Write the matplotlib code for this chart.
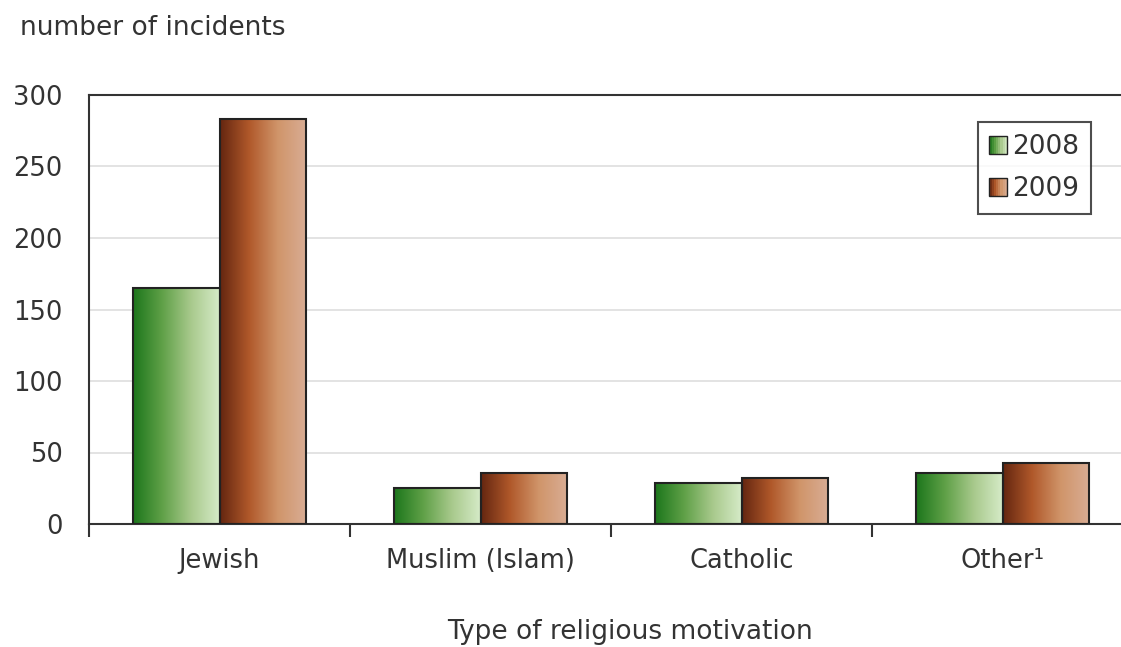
import numpy as np
import matplotlib.pyplot as plt
from matplotlib.colors import LinearSegmentedColormap
from matplotlib.patches import Rectangle
from matplotlib.legend_handler import HandlerBase

categories = ["Jewish", "Muslim (Islam)", "Catholic", "Other\u00b9"]
years = ["2008", "2009"]
v2008 = [165, 25, 29, 36]
v2009 = [283, 36, 32, 43]

green = LinearSegmentedColormap.from_list("g", ["#1c761c", "#5fa047", "#a8c98c", "#d6ebc8"])
brown = LinearSegmentedColormap.from_list("b", ["#642610", "#b0582a", "#d0956a", "#d9ad95"])
txt = "#333333"

fig = plt.figure(figsize=(11.21, 6.47), dpi=100)
W, H = 1121, 647
ax = fig.add_axes([89 / W, 123 / H, 1044 / W, 429 / H])

bw = 0.33
grad = np.linspace(0, 1, 256).reshape(1, -1)


def gbar(x0, h, cmap):
    ax.imshow(grad, cmap=cmap, extent=(x0, x0 + bw, 0, h), aspect="auto", zorder=2)
    ax.add_patch(Rectangle((x0, 0), bw, h, fill=False, edgecolor="#222222", lw=1.5, zorder=3))


for i in range(len(categories)):
    gbar(i - bw, v2008[i], green)
    gbar(i, v2009[i], brown)

ax.set_xlim(-0.5, 3.5)
ax.set_ylim(0, 300)
ax.set_yticks(range(0, 301, 50))
ax.yaxis.grid(True, color="#e0e0e0", lw=1.3)
ax.set_axisbelow(True)
ax.tick_params(axis="y", length=0, pad=19, labelsize=18.5, labelcolor=txt)
ax.set_xticks(range(len(categories)))
ax.set_xticklabels(categories)
ax.tick_params(axis="x", which="major", length=0, pad=17, labelsize=18.5, labelcolor=txt)
ax.set_xticks([-0.5, 0.5, 1.5, 2.5], minor=True)
ax.tick_params(axis="x", which="minor", length=9, width=1.5, color="#333333")
for s in ["left", "bottom", "top"]:
    ax.spines[s].set_color("#333333")
    ax.spines[s].set_linewidth(1.5)
ax.spines["right"].set_visible(False)


class GradHandler(HandlerBase):
    def __init__(self, cmap):
        super().__init__()
        self.cmap = cmap

    def create_artists(self, legend, orig, xd, yd, width, height, fontsize, trans):
        s = height * 0.95
        x0 = xd + width - s
        arts = []
        n = 8
        for k in range(n):
            arts.append(Rectangle((x0 + k * s / n, yd), s / n, s, facecolor=self.cmap((k + 0.5) / n),
                                  edgecolor="none", transform=trans))
        arts.append(Rectangle((x0, yd), s, s, fill=False, edgecolor="#222222", lw=1, transform=trans))
        return arts


h1 = Rectangle((0, 0), 1, 1)
h2 = Rectangle((0, 0), 1, 1)
leg = fig.legend([h1, h2], years, handler_map={h1: GradHandler(green), h2: GradHandler(brown)},
                 loc="upper left", bbox_to_anchor=(978 / W, 1 - 122 / H), fontsize=19,
                 frameon=True, fancybox=False, edgecolor="#222222", handlelength=0.65,
                 handletextpad=0.2, borderpad=0.45, labelspacing=0.6, labelcolor=txt,
                 borderaxespad=0)
leg.get_frame().set_linewidth(1.5)
leg._legend_box.sep = 0

fig.text(20 / W, 1 - 28 / H, "number of incidents", fontsize=19, color=txt, va="center", ha="left")
fig.text(630 / W, 1 - 632 / H, "Type of religious motivation", fontsize=19, color=txt, va="center", ha="center")

fig.savefig("out.png", dpi=100)
